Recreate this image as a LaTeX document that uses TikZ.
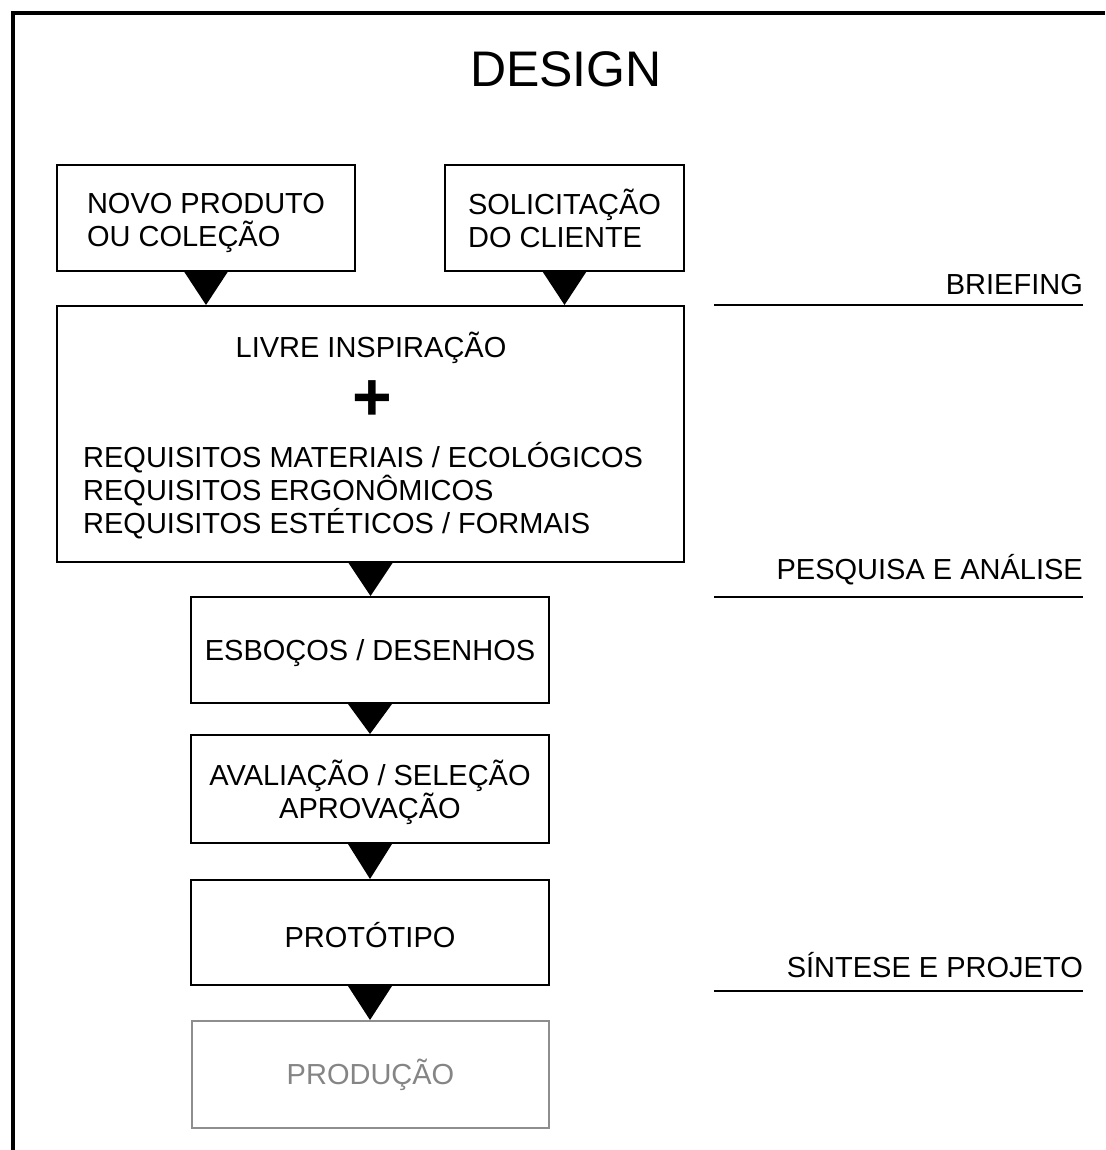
\documentclass[tikz,border=0pt]{standalone}
\usepackage{fontspec}
\setmainfont{Liberation Sans}
\usetikzlibrary{calc}
\definecolor{grayline}{HTML}{8E8E8E}
\definecolor{graytext}{HTML}{858585}
\tikzset{
  box/.style={draw=black, line width=2pt, rectangle, inner sep=0pt},
  txt/.style={font=\fontsize{29pt}{33pt}\selectfont, inner sep=0pt},
  one/.style={txt, text height=20.8pt, text depth=0pt},
  lab/.style={font=\fontsize{29pt}{33pt}\selectfont, inner sep=0pt, anchor=base east},
  rule/.style={line width=2pt},
}
\newcommand\tricon[2]{\fill ($(#1.south)+(-22,0)$) -- ($(#1.south)+(22,0)$) -- (#1.south |- #2.north) -- cycle;}
\begin{document}
\begin{tikzpicture}[x=1pt,y=-1pt]
\useasboundingbox (0,0) rectangle (1105,1150);
% frame
\draw[line width=4pt] (1105,13.5) -- (12.5,13.5) -- (12.5,1150);
% title
\node[inner sep=0pt, font=\fontsize{50pt}{50pt}\selectfont] (title) at (566,69) {DESIGN};
% boxes
\node[box, minimum width=298pt, minimum height=105pt] (b1) at (206,218) {};
\node[txt, align=left] (b1t) at ($(b1.center)+(0,4.5)$) {NOVO PRODUTO\\OU COLEÇÃO};
\node[box, minimum width=239pt, minimum height=105pt] (b2) at (564.5,218) {};
\node[txt, align=left] (b2t) at ($(b2.center)+(0,0.5)$) {SOLICITAÇÃO\\DO CLIENTE};
\node[box, minimum width=627pt, minimum height=256pt] (big) at (370.5,434) {};
\node[one] (t1) at (371,347) {LIVRE INSPIRAÇÃO};
\node[inner sep=0pt, font=\fontsize{68pt}{68pt}\selectfont\bfseries] (plus) at (372,401) {+};
\node[txt, align=left, anchor=west] (t2) at (83,491) {REQUISITOS MATERIAIS / ECOLÓGICOS\\REQUISITOS ERGONÔMICOS\\REQUISITOS ESTÉTICOS / FORMAIS};
\node[box, minimum width=358pt, minimum height=106pt] (esb) at (370,650) {};
\node[one] (esbt) at (esb.center) {ESBOÇOS / DESENHOS};
\node[box, minimum width=358pt, minimum height=108pt] (ava) at (370,789) {};
\node[txt, align=center] (avat) at ($(ava.center)+(0,3.5)$) {AVALIAÇÃO / SELEÇÃO\\APROVAÇÃO};
\node[box, minimum width=358pt, minimum height=105pt] (pro) at (370,932.5) {};
\node[one] (prot) at ($(pro.center)+(0,5)$) {PROTÓTIPO};
\node[box, draw=grayline, minimum width=357pt, minimum height=107pt] (prod) at (370.5,1074.5) {};
\node[one, text=graytext] (prodt) at (prod.center) {PRODUÇÃO};
% connectors
\tricon{b1}{big}
\tricon{b2}{big}
\tricon{big}{esb}
\tricon{esb}{ava}
\tricon{ava}{pro}
\tricon{pro}{prod}
% right labels
\node[lab] (l1) at (1083,294) {BRIEFING};
\draw[rule] (714,305) -- (1083,305);
\node[lab] (l2) at (1083,579) {PESQUISA E ANÁLISE};
\draw[rule] (714,597) -- (1083,597);
\node[lab] (l3) at (1083,977) {SÍNTESE E PROJETO};
\draw[rule] (714,991) -- (1083,991);
\end{tikzpicture}
\end{document}
